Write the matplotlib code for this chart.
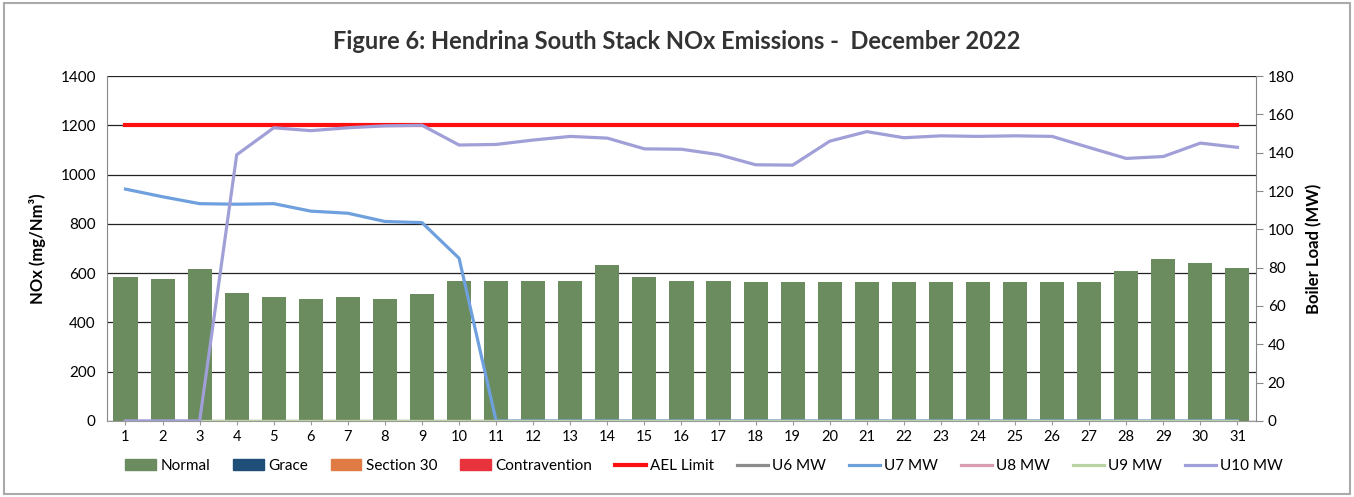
import numpy as np
import matplotlib
matplotlib.use("Agg")
import matplotlib.pyplot as plt
from matplotlib.patches import Patch, Rectangle
from matplotlib.lines import Line2D

plt.rcParams['font.family'] = ['Lato', 'DejaVu Sans']

days = list(range(1, 32))

# NOx emissions (mg/Nm3) by category
normal = [583, 578, 617, 520, 503, 493, 505, 495, 517, 568,
          568, 568, 570, 632, 585, 568, 568, 566, 566, 566,
          566, 566, 566, 566, 566, 566, 566, 607, 657, 643, 620]
grace = [0] * 31
section30 = [0] * 31
contravention = [0] * 31
ael_limit = [1200] * 31

# Boiler load (MW)
u6_mw = [0] * 31
u7_mw = [121, 117, 113.4, 113.1, 113.4, 109.5, 108.4, 104.1, 103.5, 84.9,
         0, 0, 0, 0, 0, 0, 0, 0, 0, 0,
         0, 0, 0, 0, 0, 0, 0, 0, 0, 0, 0]
u8_mw = [0] * 31
u9_mw = [0] * 31
u10_mw = [0, 0, 0, 138.9, 153, 151.5, 153, 154, 154.3, 144,
          144.3, 146.6, 148.5, 147.6, 142, 141.8, 139, 133.7, 133.5, 146,
          151, 147.8, 148.8, 148.5, 148.8, 148.5, 142.7, 137, 138, 145, 142.8]

c_normal = '#6b8c5e'
c_grace = '#1f4e79'
c_s30 = '#e07b46'
c_contra = '#e8323c'
c_ael = '#ff1010'
c_u6 = '#8c8c8c'
c_u7 = '#6fa0de'
c_u8 = '#d99bb0'
c_u9 = '#b7d4a2'
c_u10 = '#a09fd8'

fig = plt.figure(figsize=(13.54, 4.97), dpi=100)
ax = fig.add_axes([0.079, 0.153, 0.8486, 0.694])

x = np.array(days)
w = 0.65
bottom = np.zeros(31)
for vals, col in [(normal, c_normal), (grace, c_grace),
                  (section30, c_s30), (contravention, c_contra)]:
    ax.bar(x, vals, w, bottom=bottom, color=col, edgecolor='none', zorder=2)
    bottom += np.array(vals)

ax.plot(x, ael_limit, color=c_ael, lw=3, zorder=3)

ax.set_xlim(0.5, 31.5)
ax.set_ylim(0, 1400)
ax.set_yticks(range(0, 1401, 200))
ax.set_xticks(days)
ax.yaxis.grid(True, color='#222222', lw=0.9)
ax.set_axisbelow(True)
for s in ['top', 'right']:
    ax.spines[s].set_visible(False)
ax.spines['left'].set_color('#888888')
ax.spines['bottom'].set_color('#999999')
ax.tick_params(axis='y', length=0, labelsize=11, pad=8)
ax.tick_params(axis='x', length=3, color='#999999', labelsize=10.5)
ax.set_ylabel('NOx (mg/Nm³)', fontsize=12, fontweight='bold', labelpad=10)

ax2 = ax.twinx()
ax2.set_ylim(0, 180)
ax2.set_yticks(range(0, 181, 20))
for vals, col in [(u6_mw, c_u6), (u7_mw, c_u7), (u8_mw, c_u8),
                  (u9_mw, c_u9), (u10_mw, c_u10)]:
    ax2.plot(x, vals, color=col, lw=2.3, zorder=4)
for s in ['top', 'left', 'bottom']:
    ax2.spines[s].set_visible(False)
ax2.spines['right'].set_color('#888888')
ax2.tick_params(axis='y', length=5, color='#888888', labelsize=11)
ax2.set_ylabel('Boiler Load (MW)', fontsize=12, fontweight='bold', labelpad=8)

fig.suptitle('Figure 6: Hendrina South Stack NOx Emissions -  December 2022',
             x=0.5, y=0.94, fontsize=17, fontweight='bold', color='#333333')

handles = [Patch(color=c_normal), Patch(color=c_grace), Patch(color=c_s30),
           Patch(color=c_contra),
           Line2D([], [], color=c_ael, lw=3), Line2D([], [], color=c_u6, lw=2.3),
           Line2D([], [], color=c_u7, lw=2.3), Line2D([], [], color=c_u8, lw=2.3),
           Line2D([], [], color=c_u9, lw=2.3), Line2D([], [], color=c_u10, lw=2.3)]
labels = ['Normal', 'Grace', 'Section 30', 'Contravention', 'AEL Limit',
          'U6 MW', 'U7 MW', 'U8 MW', 'U9 MW', 'U10 MW']
fig.legend(handles, labels, loc='center', bbox_to_anchor=(0.52, 0.062), ncol=10,
           frameon=False, fontsize=11, handlelength=2.0, handletextpad=0.3,
           columnspacing=1.5)

fig.patches.append(Rectangle((0.003, 0.006), 0.994, 0.988, transform=fig.transFigure,
                             fill=False, edgecolor='#aaaaaa', lw=1.5))

fig.savefig('out.png', dpi=100)
